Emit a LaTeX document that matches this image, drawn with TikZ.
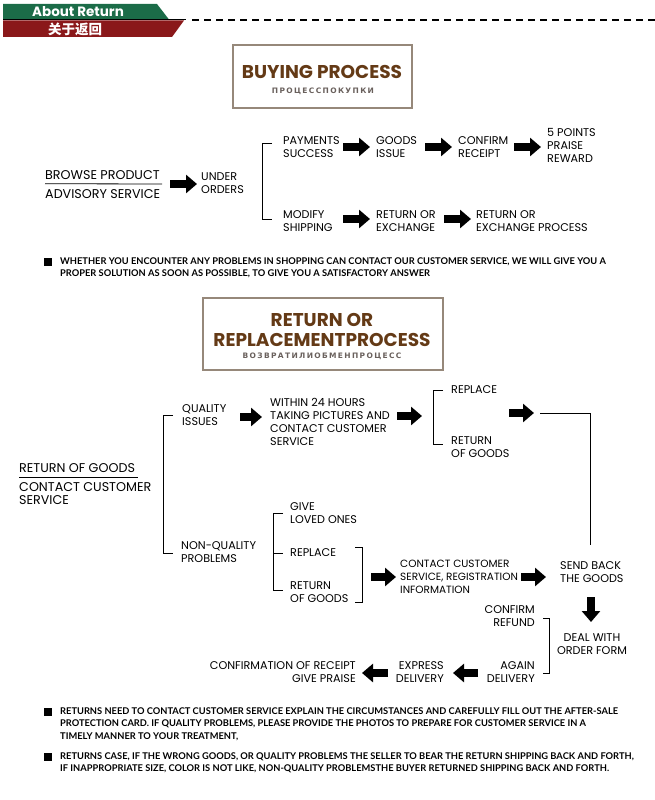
\documentclass[tikz,border=0pt]{standalone}
\usepackage{fontspec}
\setmainfont{Poppins}
\newfontfamily\cyr[LetterSpace=18]{DejaVu Sans}
\newfontfamily\notefont{Lato}
\newfontfamily\cjk{Noto Sans CJK SC}
\usetikzlibrary{arrows.meta}
\definecolor{bgreen}{RGB}{27,108,72}
\definecolor{bred}{RGB}{138,24,26}
\definecolor{ttlbrown}{RGB}{100,58,22}
\definecolor{boxc}{RGB}{150,136,122}
\definecolor{cyrc}{RGB}{105,96,92}
\begin{document}
\begin{tikzpicture}[x=1pt,y=-1pt,
  lbl/.style={inner sep=0pt, font=\fontsize{11.2}{13}\selectfont, align=left, anchor=west},
  biglbl/.style={lbl, font=\fontsize{12.7}{13}\selectfont},
  rlbl/.style={lbl, align=right, anchor=east},
  clbl/.style={lbl, align=center, anchor=center},
  fat/.style={line width=7.5pt, -{Triangle[length=11pt,width=18pt]}},
  brk/.style={line width=0.9pt},
  ttlbox/.style={draw=boxc, line width=1.3pt},
  notetxt/.style={inner sep=0pt, font=\notefont\bfseries\fontsize{9.3}{12.3}\selectfont, align=left, anchor=north west},
  bullet/.style={fill=black, minimum size=8pt, inner sep=0pt, anchor=north west}
]
\useasboundingbox (0,0) rectangle (655,800);
% header
\fill[bgreen] (3,4) -- (157,4) -- (169,19.5) -- (3,19.5) -- cycle;
\fill[bred] (3,20.5) -- (184,20.5) -- (172,37) -- (3,37) -- cycle;
\draw[line width=1pt] (3,20) -- (186,20);
\draw[line width=1.3pt, dash pattern=on 7pt off 5pt] (192,20) -- (655,20);
\node[inner sep=0pt, text=white, font=\fontsize{13.5}{14}\selectfont\bfseries] (about) at (78,12) {About Return};
\node[inner sep=0pt, text=white, font=\cjk\fontsize{13.5}{14}\selectfont\bfseries] (aboutcn) at (75,29) {关于返回};

% buying process title
\node[ttlbox, minimum width=179pt, minimum height=63pt] (bbox) at (322.5,76.5) {};
\node[inner sep=0pt, text=ttlbrown, font=\fontsize{18.5}{19}\selectfont\bfseries] (bttl) at (322,72) {BUYING PROCESS};
\node[inner sep=0pt, text=cyrc, font=\cyr\fontsize{7.5}{8}\selectfont\bfseries] (bcyr) at (323,91) {ПРОЦЕССПОКУПКИ};

% buying flow
\node[biglbl] (browse) at (45,175) {BROWSE PRODUCT};
\node[biglbl] (advis) at (45,194) {ADVISORY SERVICE};
\draw[line width=0.8pt] (browse.south west) ++(0,4) -- (162,184);
\node[lbl] (under) at (201,183.5) {UNDER\\ORDERS};
\node[lbl] (pay) at (283,147.5) {PAYMENTS\\SUCCESS};
\node[lbl] (goods) at (376,147.5) {GOODS\\ISSUE};
\node[lbl] (confirm) at (458,147.5) {CONFIRM\\RECEIPT};
\node[lbl] (points) at (547,145) {5 POINTS\\PRAISE\\REWARD};
\node[lbl] (modify) at (283,221) {MODIFY\\SHIPPING};
\node[lbl] (retex) at (376,221) {RETURN OR\\EXCHANGE};
\node[lbl] (retexp) at (476,221) {RETURN OR\\EXCHANGE PROCESS};
\draw[brk] (272,143) -- (262,143) -- (262,219) -- (272,219);
\draw[fat] (170,184) -- (197,184);
\draw[fat] (343,147) -- (370,147);
\draw[fat] (425,147) -- (452,147);
\draw[fat] (514,147) -- (541,147);
\draw[fat] (343,219) -- (370,219);
\draw[fat] (444,219) -- (471,219);

% note 1
\node[bullet] (b1) at (44,258) {};
\node[notetxt] (n1) at (60,257.5) {WHETHER YOU ENCOUNTER ANY PROBLEMS IN SHOPPING CAN CONTACT OUR CUSTOMER SERVICE, WE WILL GIVE YOU A\\PROPER SOLUTION AS SOON AS POSSIBLE, TO GIVE YOU A SATISFACTORY ANSWER};

% return title
\node[ttlbox, minimum width=240pt, minimum height=72pt] (rbox) at (323,334) {};
\node[inner sep=0pt, text=ttlbrown, font=\fontsize{18.5}{20}\selectfont\bfseries, align=center] (rttl) at (322,330) {RETURN OR\\REPLACEMENTPROCESS};
\node[inner sep=0pt, text=cyrc, font=\cyr\fontsize{7.5}{8}\selectfont\bfseries] (rcyr) at (322,356) {ВОЗВРАТИЛИОБМЕНПРОЦЕСС};

% return flow
\node[biglbl] (rog) at (19,468) {RETURN OF GOODS};
\draw[line width=0.8pt] (19,477) -- (138,477);
\node[biglbl] (ccs) at (19,493.5) {CONTACT CUSTOMER\\SERVICE};
\draw[brk] (173,415) -- (163,415) -- (163,553) -- (173,553);
\node[lbl] (qual) at (182,415.5) {QUALITY\\ISSUES};
\node[lbl] (within) at (270,421.5) {WITHIN 24 HOURS\\TAKING PICTURES AND\\CONTACT CUSTOMER\\SERVICE};
\draw[fat] (240,417) -- (262,417);
\draw[fat] (397,416) -- (422,416);
\draw[brk] (443,390) -- (433,390) -- (433,444) -- (443,444);
\node[lbl] (repl1) at (451,390) {REPLACE};
\node[lbl] (rog1) at (451,447.5) {RETURN\\OF GOODS};
\draw[fat] (509,413) -- (534,413);
\node[lbl] (nonq) at (181,552.5) {NON-QUALITY\\PROBLEMS};
\draw[brk] (283,513) -- (273,513) -- (273,590) -- (283,590);
\draw[brk] (273,553) -- (283,553);
\node[lbl] (give) at (290,513) {GIVE\\LOVED ONES};
\node[lbl] (repl2) at (290,553) {REPLACE};
\node[lbl] (rog2) at (290,592.5) {RETURN\\OF GOODS};
\draw[brk] (355,547) -- (362,547) -- (362,602) -- (355,602);
\draw[fat] (371,577) -- (396,577);
\node[lbl, font=\fontsize{10.5}{13}\selectfont] (ccsreg) at (400,577) {CONTACT CUSTOMER\\SERVICE, REGISTRATION\\INFORMATION};
\draw[fat] (521,577) -- (546,577);
\node[lbl] (sendback) at (560,572) {SEND BACK\\THE GOODS};
\coordinate (lineend) at (590,545);
\draw[brk] (540,413) -- (590,413) -- (lineend);
\draw[fat] (591,597) -- (591,622);
\node[clbl] (deal) at (592,644.5) {DEAL WITH\\ORDER FORM};
\node[rlbl] (cref) at (535,616.5) {CONFIRM\\REFUND};
\draw[brk] (543,618) -- (549,618) -- (549,673) -- (543,673);
\node[rlbl] (again) at (535,672.5) {AGAIN\\DELIVERY};
\draw[fat] (478,673) -- (453,673);
\node[rlbl] (express) at (444,672.5) {EXPRESS\\DELIVERY};
\draw[fat] (388,673) -- (362,673);
\node[rlbl] (confrec) at (356,672.5) {CONFIRMATION OF RECEIPT\\GIVE PRAISE};

% notes 2,3
\node[bullet] (b2) at (44,708) {};
\node[notetxt] (n2) at (60,707.5) {RETURNS NEED TO CONTACT CUSTOMER SERVICE EXPLAIN THE CIRCUMSTANCES AND CAREFULLY FILL OUT THE AFTER-SALE\\PROTECTION CARD. IF QUALITY PROBLEMS, PLEASE PROVIDE THE PHOTOS TO PREPARE FOR CUSTOMER SERVICE IN A\\TIMELY MANNER TO YOUR TREATMENT,};
\node[bullet] (b3) at (44,753) {};
\node[notetxt] (n3) at (60,752.5) {RETURNS CASE, IF THE WRONG GOODS, OR QUALITY PROBLEMS THE SELLER TO BEAR THE RETURN SHIPPING BACK AND FORTH,\\IF INAPPROPRIATE SIZE, COLOR IS NOT LIKE, NON-QUALITY PROBLEMSTHE BUYER RETURNED SHIPPING BACK AND FORTH.};
\end{tikzpicture}
\end{document}
